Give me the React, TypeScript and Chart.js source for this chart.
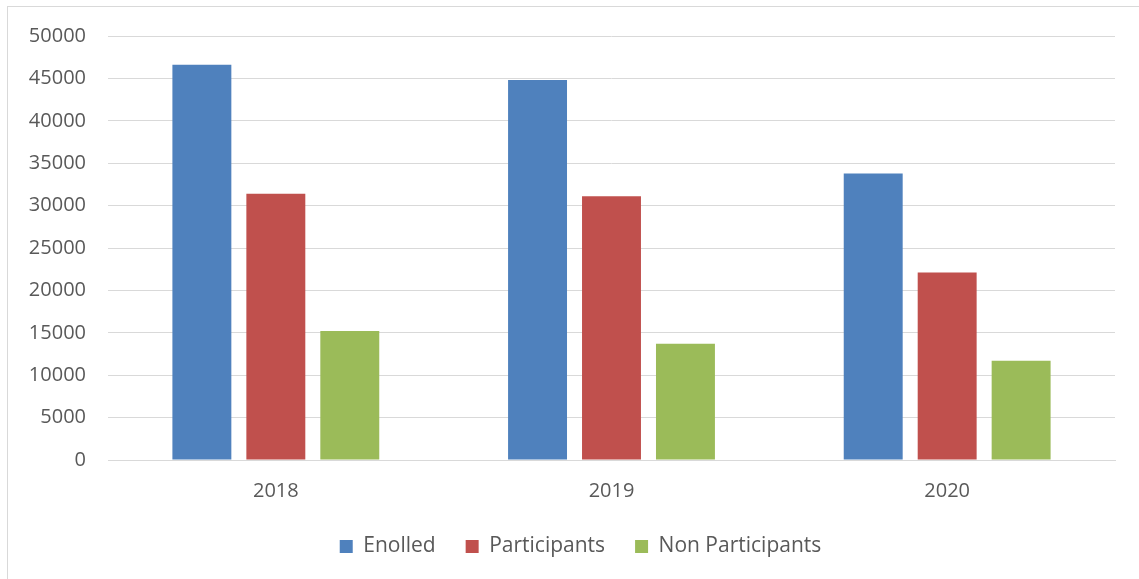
import React, { useEffect, useRef } from "react";
import { Chart, registerables } from "chart.js";

Chart.register(...registerables);

const categories = ["2018", "2019", "2020"];
const enrolled = [46600, 44800, 33800];
const participants = [31400, 31100, 22100];
const nonParticipants = [15200, 13700, 11700];
const yTicks = [0, 5000, 10000, 15000, 20000, 25000, 30000, 35000, 40000, 45000, 50000];

const FONT = "'Open Sans', 'Noto Sans', sans-serif";
const TEXT = "#595959";
const GRID = "#D9D9D9";

const legendShift = {
  id: "legendShift",
  afterLayout(chart: any) {
    const l = chart.legend;
    if (l) {
      l.left += 19;
      l.right += 19;
    }
  },
};

export default function App() {
  const ref = useRef<HTMLCanvasElement>(null);

  useEffect(() => {
    if (!ref.current) return;
    const chart = new Chart(ref.current, {
      type: "bar",
      data: {
        labels: categories,
        datasets: [
          { label: "Enolled", data: enrolled, backgroundColor: "#4F81BD" },
          { label: "Participants", data: participants, backgroundColor: "#C0504D" },
          { label: "Non Participants", data: nonParticipants, backgroundColor: "#9BBB59" },
        ],
      },
      plugins: [legendShift],
      options: {
        responsive: false,
        animation: false,
        maintainAspectRatio: false,
        layout: { padding: { left: 0, right: 24, top: 29, bottom: 12 } },
        datasets: {
          bar: { categoryPercentage: 0.661, barPercentage: 0.797 },
        },
        plugins: {
          tooltip: { enabled: false },
          legend: {
            position: "bottom",
            labels: {
              color: TEXT,
              font: { family: FONT, size: 21 },
              boxWidth: 13,
              boxHeight: 13,
              padding: 30,
            },
          },
        },
        scales: {
          x: {
            grid: { display: false, drawTicks: false },
            border: { display: true, color: GRID, width: 1 },
            ticks: { color: TEXT, font: { family: FONT, size: 20 }, padding: 19 },
            afterFit: (scale: any) => {
              scale.height = scale.height - 16;
            },
          },
          y: {
            min: 0,
            max: 50000,
            afterBuildTicks: (scale: any) => {
              scale.ticks = yTicks.map((v) => ({ value: v }));
            },
            afterFit: (scale: any) => {
              scale.width = 100;
            },
            grid: {
              color: GRID,
              lineWidth: 1,
              drawTicks: true,
              tickLength: 16,
              tickColor: "rgba(0,0,0,0)",
            },
            border: { display: false },
            ticks: {
              color: TEXT,
              font: { family: FONT, size: 20 },
              padding: 6,
              callback: (v: any) => String(v),
            },
          },
        },
      },
    });
    return () => chart.destroy();
  }, []);

  return (
    <div
      style={{
        position: "absolute",
        left: 7,
        top: 6,
        width: 1131,
        height: 572,
        borderLeft: `1px solid ${GRID}`,
        borderTop: `1px solid ${GRID}`,
        overflow: "hidden",
      }}
    >
      <canvas ref={ref} width={1131} height={572} style={{ display: "block" }} />
    </div>
  );
}
